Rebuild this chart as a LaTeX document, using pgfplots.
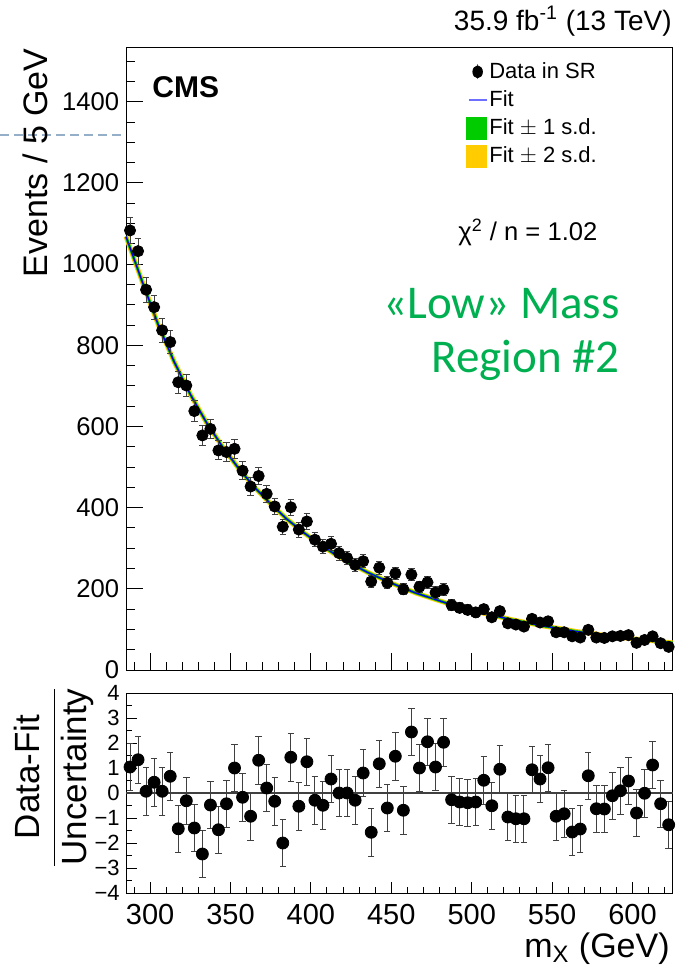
\documentclass[border=0pt]{standalone}
\usepackage{pgfplots}
\pgfplotsset{compat=1.18}
\usepackage{pgfplotstable}
\usepackage{fontspec}
\setmainfont{Liberation Sans}
\newfontfamily\carlito{Carlito}
\definecolor{fitblue}{RGB}{0,0,230}
\definecolor{legblue}{RGB}{110,110,255}
\definecolor{bandgreen}{RGB}{0,204,0}
\definecolor{bandyellow}{RGB}{255,204,0}
\definecolor{txtgreen}{RGB}{0,176,80}
\definecolor{dashblue}{RGB}{150,175,200}

\pgfplotstableread{
x y e r re
287.5 1083 32.9 1.04 0.95
292.5 1032 32.1 1.33 0.95
297.5 937 30.6 0.07 0.95
302.5 894 29.9 0.43 0.95
307.5 837 28.9 0.07 0.95
312.5 808 28.4 0.67 0.95
317.5 709 26.6 -1.43 0.95
322.5 701 26.5 -0.31 0.95
327.5 638 25.3 -1.40 0.95
332.5 578 24.0 -2.44 0.95
337.5 594 24.4 -0.48 0.95
342.5 541 23.3 -1.47 0.95
347.5 537 23.2 -0.43 0.95
352.5 545 23.3 1.00 0.95
357.5 491 22.2 -0.17 0.95
362.5 452 21.3 -0.93 0.95
367.5 478 21.9 1.31 0.95
372.5 434 20.8 0.20 0.95
377.5 403 20.1 -0.33 0.95
382.5 353 18.8 -2.00 0.95
387.5 401 20.0 1.43 0.95
392.5 346 18.6 -0.53 0.95
397.5 366 19.1 1.25 0.95
402.5 321 17.9 -0.29 0.95
407.5 304 17.4 -0.49 0.95
412.5 311 17.6 0.56 0.95
417.5 288 17.0 0.00 0.95
422.5 276 16.6 0.00 0.95
427.5 259 16.1 -0.29 0.95
432.5 268 16.4 0.80 0.95
437.5 218 14.8 -1.57 0.95
442.5 252 15.9 1.17 0.95
447.5 215 14.7 -0.60 0.95
452.5 238 15.4 1.47 0.95
457.5 199 14.1 -0.69 0.95
462.5 235 15.3 2.44 0.95
467.5 205 14.3 1.00 0.95
472.5 216 14.7 2.05 0.95
477.5 191 13.8 1.04 0.95
482.5 198 14.1 2.03 0.95
487.5 160 12.6 -0.27 0.95
492.5 153 12.4 -0.36 0.95
497.5 148 12.2 -0.39 0.95
502.5 142 11.9 -0.36 0.95
507.5 150 12.2 0.51 0.95
512.5 130 11.4 -0.51 0.95
517.5 145 12.0 0.95 0.95
522.5 115 10.7 -0.96 0.95
527.5 112 10.6 -1.03 0.95
532.5 107 10.3 -1.03 0.95
537.5 126 11.2 0.93 0.95
542.5 117 10.8 0.56 0.95
547.5 120 11.0 1.01 0.95
552.5 93 9.6 -0.93 0.95
557.5 93 9.6 -0.83 0.95
562.5 83 9.1 -1.56 0.95
567.5 80 8.9 -1.44 0.95
572.5 99 9.9 0.69 0.95
577.5 80 8.9 -0.63 0.95
582.5 79 8.9 -0.64 0.95
587.5 83 9.1 -0.11 0.95
592.5 84 9.2 0.09 0.95
597.5 86 9.3 0.48 0.95
602.5 67 8.2 -0.80 0.95
607.5 74 8.6 -0.01 0.95
612.5 83 9.1 1.12 0.95
617.5 66 8.1 -0.43 0.95
622.5 57 7.5 -1.27 0.95
}\datatable

\pgfplotstableread{
x f
285 1068
295 958
305 851
315 759
325 679
335 610
345 550
355 497
365 450
375 409
385 372
395 340
405 311
415 285
425 262
435 241
445 223
455 206
465 190
475 177
485 164
495 153
505 142
515 133
525 124
535 116
545 108
555 102
565 95
575 90
585 84
595 79
605 75
615 71
625 67
}\fittable

\begin{document}
\begin{tikzpicture}[x=0.5pt,y=-0.5pt]
\path[use as bounding box] (0,0) rectangle (686,969);
\draw[dashblue, line width=1pt, dash pattern=on 4.5pt off 2.5pt] (0,135) -- (123,135);

\begin{axis}[
  at={(63pt,-335pt)}, anchor=south west,
  width=273.35pt, height=311.5pt, scale only axis,
  xmin=285, xmax=625, ymin=0, ymax=1535,
  xtick={300,350,...,600}, minor xtick={290,300,...,620}, xticklabels={},
  ytick={0,200,...,1400}, minor ytick={50,100,...,1500},
  tick align=inside, xtick pos=bottom, ytick pos=left,
  major tick length=8.5pt, minor tick length=4.25pt,
  tick style={black, line width=0.5pt},
  axis line style={line width=0.5pt},
  yticklabel style={font=\fontsize{12.8}{14}\selectfont, inner sep=0pt, xshift=-3.3pt},
  /pgf/number format/assume math mode=true,
  /pgf/number format/1000 sep={},
  clip=false,
  legend style={at={(0.611,0.9856)}, anchor=north west, draw=none, fill=none,
    font=\fontsize{11}{12.5}\selectfont, row sep=2.6pt, column sep=0pt,
    nodes={inner sep=1pt}},
  legend cell align=left,
]
\addlegendimage{legend image code/.code={
  \path[draw=none,fill=none] (0,-0.15cm) rectangle (0.22cm,0.15cm);
  \draw[legblue,line width=0.5pt] (0.11cm,-0.13cm)--(0.11cm,0.13cm);
  \fill[black] (0.11cm,0cm) ellipse (2.4pt and 3pt);}}
\addlegendentry{Data in SR}
\addlegendimage{legend image code/.code={
  \path[draw=none,fill=none] (0,-0.15cm) rectangle (0.22cm,0.15cm);
  \draw[legblue,line width=0.6pt] (-0.05cm,0)--(0.27cm,0);}}
\addlegendentry{Fit}
\addlegendimage{legend image code/.code={
  \path[draw=none,fill=none] (0,-0.15cm) rectangle (0.22cm,0.15cm);
  \fill[bandgreen] (-0.08cm,-0.19cm) rectangle (0.27cm,0.19cm);}}
\addlegendentry{Fit $\pm$ 1 s.d.}
\addlegendimage{legend image code/.code={
  \path[draw=none,fill=none] (0,-0.15cm) rectangle (0.22cm,0.15cm);
  \fill[bandyellow] (-0.08cm,-0.19cm) rectangle (0.27cm,0.19cm);}}
\addlegendentry{Fit $\pm$ 2 s.d.}

\addplot[bandyellow, line width=2.4pt, forget plot] table[x=x,y=f]{\fittable};
\addplot[bandgreen, line width=1.4pt, forget plot] table[x=x,y=f]{\fittable};
\addplot[fitblue, line width=0.7pt, forget plot] table[x=x,y=f]{\fittable};
\addplot[only marks, mark=*, mark size=2.8pt, black, forget plot,
  error bars/.cd, y dir=both, y explicit,
  error bar style={line width=0.5pt, black!75},
  error mark options={rotate=90, mark size=1.6pt, line width=0.5pt, black!75}]
  table[x=x,y=y,y error=e]{\datatable};
\end{axis}

\begin{axis}[
  at={(63pt,-446.5pt)}, anchor=south west,
  width=273.35pt, height=100pt, scale only axis,
  xmin=285, xmax=625, ymin=-4, ymax=4,
  xtick={300,350,...,600}, minor xtick={290,300,...,620},
  ytick={-4,-3,...,4}, yticklabels={−4,−3,−2,−1,0,1,2,3,4},
  minor ytick={-3.5,-2.5,...,3.5},
  tick align=inside, xtick pos=bottom, ytick pos=left,
  major tick length=5.5pt, minor tick length=3pt,
  tick style={black, line width=0.5pt},
  axis line style={line width=0.5pt},
  yticklabel style={font=\fontsize{11}{12}\selectfont, inner sep=0pt, xshift=-3pt},
  xticklabel style={font=\fontsize{14.5}{16}\selectfont, inner sep=0pt, yshift=-5.5pt},
  /pgf/number format/assume math mode=true,
  /pgf/number format/1000 sep={},
  clip=false,
]
\addplot[black!75, line width=1pt, forget plot] coordinates {(285,0) (625,0)};
\addplot[only marks, mark=*, mark size=3pt, black,
  error bars/.cd, y dir=both, y explicit,
  error bar style={line width=0.5pt, black!75},
  error mark options={rotate=90, mark size=1.6pt, line width=0.5pt, black!75}]
  table[x=x,y=r,y error=re]{\datatable};
\end{axis}

\node[anchor=base east, font=\fontsize{14}{16}\selectfont, inner sep=0pt] at (672,30) {35.9 fb\textsuperscript{-1} (13 TeV)};
\node[anchor=base west, font=\fontsize{15}{17}\selectfont\bfseries, inner sep=0pt] at (152,97) {CMS};
\node[rotate=90, anchor=base east, font=\fontsize{17}{19}\selectfont, inner sep=0pt] at (47,48) {Events / 5 GeV};
\node[rotate=90, font=\fontsize{17.5}{19}\selectfont, inner sep=0pt] at (54,777) {$\displaystyle\frac{\mbox{Data-Fit}}{\mbox{Uncertainty}}$};
\node[anchor=base east, font=\fontsize{17}{19}\selectfont, inner sep=0pt] at (670,957) {m\textsubscript{X} (GeV)};
\node[anchor=base west, font=\fontsize{12.8}{14}\selectfont, inner sep=0pt] at (458,240) {χ\textsuperscript{2} / n = 1.02};
\node[anchor=base east, font=\carlito\fontsize{23.5}{26}\selectfont, text=txtgreen, inner sep=0pt] at (620,318) {«Low» Mass};
\node[anchor=base east, font=\carlito\fontsize{23.5}{26}\selectfont, text=txtgreen, inner sep=0pt] at (620,372) {Region \#2};
\end{tikzpicture}
\end{document}
